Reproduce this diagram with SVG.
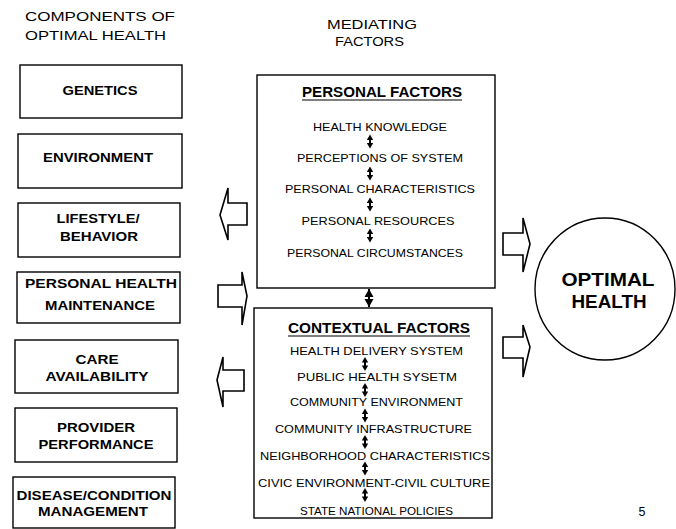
<svg xmlns="http://www.w3.org/2000/svg" xmlns:xlink="http://www.w3.org/1999/xlink" width="676" height="529" viewBox="0 0 676 529">
<style>
  text { font-family: "Liberation Sans", Arial, sans-serif; fill: #000; }
  .hdr { font-size: 12.5px; }
  .lbl { font-size: 12.5px; font-weight: bold; text-anchor: middle; }
  .item { font-size: 11.5px; text-anchor: middle; }
  .ttl { font-size: 14px; font-weight: bold; text-anchor: middle; }
  .big { font-size: 19px; font-weight: bold; text-anchor: middle; }
  .box { fill: #fff; stroke: #000; stroke-width: 1.4; }
  .blk { fill: #fff; stroke: #000; stroke-width: 1.6; stroke-linejoin: miter; }
  .ul { stroke: #000; stroke-width: 1.2; }
</style>
<defs>
  <g id="dbl">
    <line x1="0" y1="-3" x2="0" y2="3" stroke="#000" stroke-width="2"/>
    <polygon points="0,-7 -3.2,-1.5 3.2,-1.5" fill="#000"/>
    <polygon points="0,7 -3.2,1.5 3.2,1.5" fill="#000"/>
  </g>
</defs>
<rect width="676" height="529" fill="#fff"/>

<g id="headers">
  <text class="hdr" x="25" y="21" textLength="150" lengthAdjust="spacingAndGlyphs">COMPONENTS OF</text>
  <text class="hdr" x="25" y="40" textLength="141" lengthAdjust="spacingAndGlyphs">OPTIMAL HEALTH</text>
  <text class="hdr" x="327" y="29" textLength="90" lengthAdjust="spacingAndGlyphs">MEDIATING</text>
  <text class="hdr" x="335" y="46" textLength="69" lengthAdjust="spacingAndGlyphs">FACTORS</text>
</g>

<g id="genetics">
  <rect class="box" x="20" y="65" width="162" height="53"/>
  <text class="lbl" x="100" y="95" textLength="75" lengthAdjust="spacingAndGlyphs">GENETICS</text>
</g>
<g id="environment">
  <rect class="box" x="18" y="134" width="164" height="54"/>
  <text class="lbl" x="98" y="162" textLength="110" lengthAdjust="spacingAndGlyphs">ENVIRONMENT</text>
</g>
<g id="lifestyle">
  <rect class="box" x="18" y="203" width="162" height="54"/>
  <text class="lbl" x="98" y="223" textLength="83" lengthAdjust="spacingAndGlyphs">LIFESTYLE/</text>
  <text class="lbl" x="99" y="241" textLength="78" lengthAdjust="spacingAndGlyphs">BEHAVIOR</text>
</g>
<g id="personal-health-maintenance">
  <rect class="box" x="17" y="272" width="163" height="51"/>
  <text class="lbl" x="101" y="288" textLength="152" lengthAdjust="spacingAndGlyphs">PERSONAL HEALTH</text>
  <text class="lbl" x="100" y="310" textLength="110" lengthAdjust="spacingAndGlyphs">MAINTENANCE</text>
</g>
<g id="care-availability">
  <rect class="box" x="15" y="340" width="163" height="53"/>
  <text class="lbl" x="97" y="364" textLength="43" lengthAdjust="spacingAndGlyphs">CARE</text>
  <text class="lbl" x="97" y="381" textLength="103" lengthAdjust="spacingAndGlyphs">AVAILABILITY</text>
</g>
<g id="provider-performance">
  <rect class="box" x="15" y="408" width="162" height="54"/>
  <text class="lbl" x="96" y="432" textLength="78" lengthAdjust="spacingAndGlyphs">PROVIDER</text>
  <text class="lbl" x="96" y="449" textLength="115" lengthAdjust="spacingAndGlyphs">PERFORMANCE</text>
</g>
<g id="disease-condition-management">
  <rect class="box" x="13" y="477" width="162" height="51"/>
  <text class="lbl" x="94" y="500" textLength="155" lengthAdjust="spacingAndGlyphs">DISEASE/CONDITION</text>
  <text class="lbl" x="93" y="516" textLength="110" lengthAdjust="spacingAndGlyphs">MANAGEMENT</text>
</g>

<g id="personal-factors">
  <rect class="box" x="257" y="75" width="238" height="213"/>
  <text class="ttl" x="382" y="97" textLength="160" lengthAdjust="spacingAndGlyphs">PERSONAL FACTORS</text>
  <line class="ul" x1="302" y1="100" x2="462" y2="100"/>
  <text class="item" x="380" y="131" textLength="134" lengthAdjust="spacingAndGlyphs">HEALTH KNOWLEDGE</text>
  <text class="item" x="380" y="162" textLength="166" lengthAdjust="spacingAndGlyphs">PERCEPTIONS OF SYSTEM</text>
  <text class="item" x="380" y="193" textLength="190" lengthAdjust="spacingAndGlyphs">PERSONAL CHARACTERISTICS</text>
  <text class="item" x="378" y="225" textLength="153" lengthAdjust="spacingAndGlyphs">PERSONAL RESOURCES</text>
  <text class="item" x="375" y="257" textLength="176" lengthAdjust="spacingAndGlyphs">PERSONAL CIRCUMSTANCES</text>
  <use xlink:href="#dbl" x="370" y="141.5"/>
  <use xlink:href="#dbl" x="370" y="173.5"/>
  <use xlink:href="#dbl" x="370" y="204.5"/>
  <use xlink:href="#dbl" x="370" y="235.5"/>
</g>

<g id="contextual-factors">
  <rect class="box" x="254" y="308" width="238" height="210"/>
  <text class="ttl" x="379" y="333" textLength="182" lengthAdjust="spacingAndGlyphs">CONTEXTUAL FACTORS</text>
  <line class="ul" x1="288" y1="336" x2="470" y2="336"/>
  <text class="item" x="376.5" y="355" textLength="173" lengthAdjust="spacingAndGlyphs">HEALTH DELIVERY SYSTEM</text>
  <text class="item" x="377" y="381" textLength="160" lengthAdjust="spacingAndGlyphs">PUBLIC  HEALTH SYSETM</text>
  <text class="item" x="376.5" y="406" textLength="173" lengthAdjust="spacingAndGlyphs">COMMUNITY ENVIRONMENT</text>
  <text class="item" x="373.5" y="433" textLength="197" lengthAdjust="spacingAndGlyphs">COMMUNITY INFRASTRUCTURE</text>
  <text class="item" x="375" y="460" textLength="230" lengthAdjust="spacingAndGlyphs">NEIGHBORHOOD CHARACTERISTICS</text>
  <text class="item" x="374" y="487" textLength="232" lengthAdjust="spacingAndGlyphs">CIVIC ENVIRONMENT-CIVIL CULTURE</text>
  <text class="item" x="376.5" y="515" textLength="153" lengthAdjust="spacingAndGlyphs">STATE NATIONAL POLICIES</text>
  <use xlink:href="#dbl" x="365" y="364"/>
  <use xlink:href="#dbl" x="365" y="390"/>
  <use xlink:href="#dbl" x="365" y="415.5"/>
  <use xlink:href="#dbl" x="365" y="442"/>
  <use xlink:href="#dbl" x="365" y="468.5"/>
  <use xlink:href="#dbl" x="365" y="495"/>
</g>

<g id="optimal-health">
  <ellipse class="box" cx="605" cy="289" rx="70" ry="71"/>
  <text class="big" x="608" y="286" textLength="93" lengthAdjust="spacingAndGlyphs">OPTIMAL</text>
  <text class="big" x="609" y="308" textLength="75" lengthAdjust="spacingAndGlyphs">HEALTH</text>
</g>

<g id="connectors">
  <polygon class="blk" points="220,215 228,188 228,203 247,203 247,225 228,225 228,240"/>
  <polygon class="blk" points="218,285 242,285 242,272 247,296 242,325 242,307 218,307"/>
  <polygon class="blk" points="217,380 223,357 223,370 244,370 244,391 223,391 223,407"/>
  <polygon class="blk" points="503,233 523,233 523,218 530,244 523,272 523,255 503,255"/>
  <polygon class="blk" points="503,337 523,337 523,325 530,347 523,377 523,358 503,358"/>
  <g transform="translate(369,298)">
    <line x1="0" y1="-9" x2="0" y2="9" stroke="#000" stroke-width="2"/>
    <polygon points="0,-9 -4.5,-1 4.5,-1" fill="#000"/>
    <polygon points="0,9 -4.5,1 4.5,1" fill="#000"/>
  </g>
</g>

<g id="page-number">
  <text x="642" y="516" font-size="12.5" text-anchor="middle">5</text>
</g>
</svg>
